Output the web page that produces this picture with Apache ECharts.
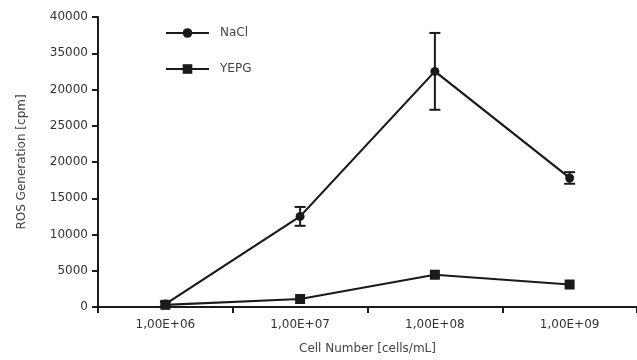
<!DOCTYPE html>
<html>
<head>
<meta charset="utf-8">
<script src="https://cdn.jsdelivr.net/npm/echarts@6/dist/echarts.min.js"></script>
<style>html,body{margin:0;padding:0;background:#fff}#c{width:637px;height:360px}</style>
</head>
<body>
<div id="c"></div>
<script>
var categories = ['1,00E+06', '1,00E+07', '1,00E+08', '1,00E+09'];
var naclValues = [400, 12500, 32500, 17800];
var naclErrors = [300, 1300, 5300, 800];
var yepgValues = [300, 1100, 4450, 3100];
var yTickLabels = ['0', '5000', '10000', '15000', '20000', '25000', '20000', '35000', '40000'];

var FONT = 'DejaVu Sans';
var INK = '#1a1a1a';

var errData = naclValues.map(function (v, i) { return [i, v - naclErrors[i], v + naclErrors[i]]; });

var chart = echarts.init(document.getElementById('c'), null, {renderer: 'canvas'});
chart.setOption({
  animation: false,
  backgroundColor: '#fff',
  grid: {left: 98, right: -5, top: 17, bottom: 48},
  legend: {
    orient: 'vertical', left: 165, top: 27, padding: 0, itemWidth: 43, itemHeight: 12, itemGap: 24,
    textStyle: {fontFamily: FONT, fontSize: 12, color: '#444', padding: [0, 0, 0, 6]},
    data: ['NaCl', 'YEPG']
  },
  xAxis: {
    type: 'category', data: categories, boundaryGap: true,
    name: 'Cell Number [cells/mL]', nameLocation: 'middle', nameGap: 36,
    nameTextStyle: {fontFamily: FONT, fontSize: 12, color: '#444'},
    axisLine: {lineStyle: {color: INK, width: 2}},
    axisTick: {show: true, length: 6, lineStyle: {color: INK, width: 2}},
    axisLabel: {fontFamily: FONT, fontSize: 12, color: '#333', margin: 12},
    splitLine: {show: false}
  },
  yAxis: {
    type: 'value', min: 0, max: 40000, interval: 5000,
    name: 'ROS Generation [cpm]', nameLocation: 'middle', nameGap: 70,
    nameTextStyle: {fontFamily: FONT, fontSize: 12, color: '#444'},
    axisLine: {show: true, lineStyle: {color: INK, width: 2}},
    axisTick: {show: true, length: 6, lineStyle: {color: INK, width: 2}},
    axisLabel: {fontFamily: FONT, fontSize: 12, color: '#333', margin: 10,
      formatter: function (v) { return yTickLabels[Math.round(v / 5000)]; }},
    splitLine: {show: false}
  },
  series: [
    {
      name: 'NaCl', type: 'line', data: naclValues, symbol: 'circle', symbolSize: 9,
      itemStyle: {color: INK}, lineStyle: {color: INK, width: 2.2}, z: 3
    },
    {
      name: 'YEPG', type: 'line', data: yepgValues, symbol: 'rect', symbolSize: 10,
      itemStyle: {color: INK}, lineStyle: {color: INK, width: 2.2}, z: 4
    },
    {
      type: 'custom', name: 'err', data: errData, z: 2,
      encode: {x: 0, y: [1, 2]},
      renderItem: function (params, api) {
        var x = api.value(0);
        var lo = api.coord([x, api.value(1)]);
        var hi = api.coord([x, api.value(2)]);
        var hw = 5.5;
        var st = {stroke: INK, lineWidth: 2};
        return {type: 'group', children: [
          {type: 'line', shape: {x1: lo[0], y1: lo[1], x2: hi[0], y2: hi[1]}, style: st},
          {type: 'line', shape: {x1: lo[0] - hw, y1: lo[1], x2: lo[0] + hw, y2: lo[1]}, style: st},
          {type: 'line', shape: {x1: hi[0] - hw, y1: hi[1], x2: hi[0] + hw, y2: hi[1]}, style: st}
        ]};
      }
    }
  ]
});
</script>
</body>
</html>
